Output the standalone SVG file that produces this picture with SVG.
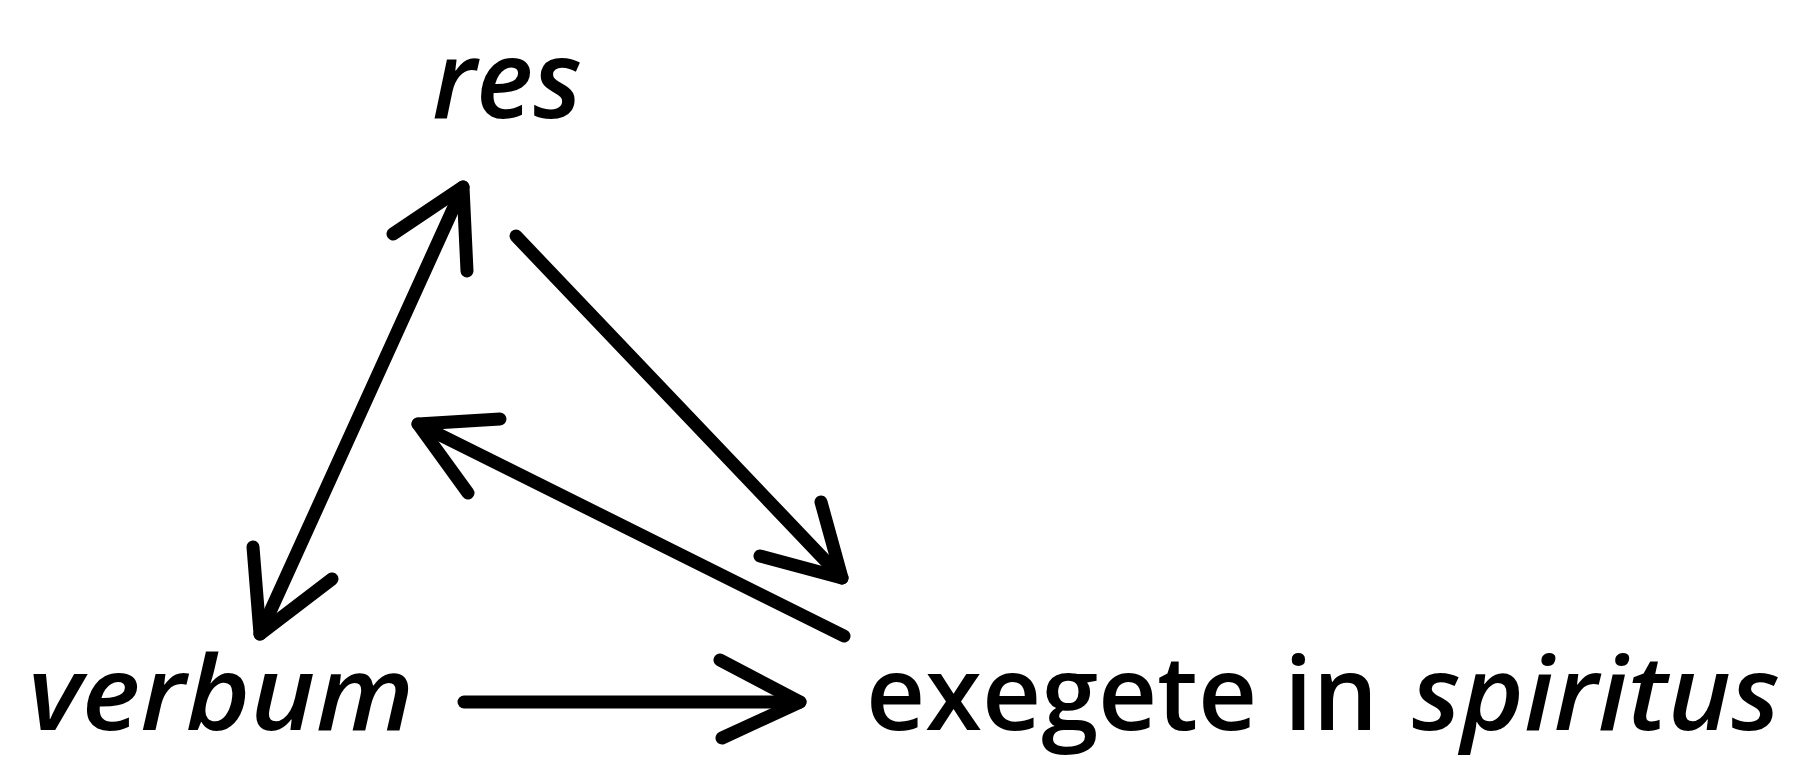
<svg xmlns="http://www.w3.org/2000/svg" width="1797" height="761" viewBox="0 0 1797 761">
<style>
.t{font-family:"Open Sans","Noto Sans",sans-serif;font-size:108px;font-weight:600;fill:#000}
.b{font-size:104px}
.i{font-style:italic}
.c{fill:none;stroke:#000;stroke-width:13;stroke-linecap:round;stroke-linejoin:round}
</style>
<rect width="1797" height="761" fill="#fff"/>
<g id="node-res"><text class="t i" x="432" y="118" textLength="150" lengthAdjust="spacingAndGlyphs">res</text></g>
<g id="node-verbum"><text class="t b i" x="28" y="730" textLength="386" lengthAdjust="spacingAndGlyphs">verbum</text></g>
<g id="node-exegete"><text class="t b" x="866" y="730" textLength="512" lengthAdjust="spacingAndGlyphs">exegete in</text><text class="t b i" x="1412" y="730" textLength="368" lengthAdjust="spacingAndGlyphs">spiritus</text></g>
<g id="connectors">
<path class="c" d="M463,187 L260,634"/>
<path class="c" d="M393,234 L463,187 L467,271"/>
<path class="c" d="M253,547 L260,634 L332,579"/>
<path class="c" d="M516,236 L842,578"/>
<path class="c" d="M821,502 L842,578 L760,556"/>
<path class="c" d="M844,636 L418,424"/>
<path class="c" d="M500,419 L418,424 L468,493"/>
<path class="c" d="M464,702 L800,702"/>
<path class="c" d="M720,660 L800,702 L722,738"/>
</g>
</svg>
